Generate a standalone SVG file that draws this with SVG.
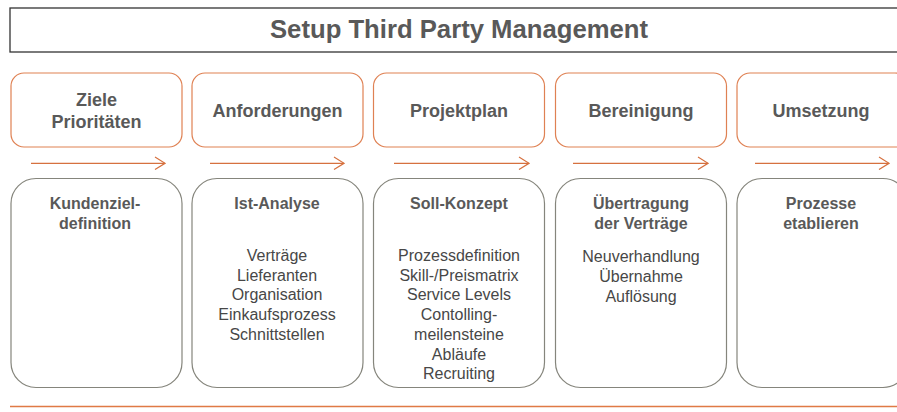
<svg xmlns="http://www.w3.org/2000/svg" width="897" height="412" viewBox="0 0 897 412">
<style>
.bg{fill:#ffffff}
.title-box{fill:#ffffff;stroke:#333333;stroke-width:1.3}
.title{font-family:"Liberation Sans",Arial,sans-serif;font-weight:bold;font-size:25.5px;fill:#595959;text-anchor:middle}
.phase{fill:#ffffff;stroke:#DF8153;stroke-width:1.2}
.task{fill:#ffffff;stroke:#85857c;stroke-width:1.2}
.lbl{font-family:"Liberation Sans",Arial,sans-serif;font-weight:bold;font-size:18px;fill:#595959;text-anchor:middle}
.hd{font-family:"Liberation Sans",Arial,sans-serif;font-weight:bold;font-size:16px;fill:#595959;text-anchor:middle}
.it{font-family:"Liberation Sans",Arial,sans-serif;font-size:16px;fill:#474747;text-anchor:middle}
.arr{stroke:#D6713F;stroke-width:1.2;fill:none}
.rule{stroke:#E07A45;stroke-width:1.5}
</style>
<defs>
<marker id="chev" viewBox="0 0 12 14" refX="11" refY="7" markerWidth="12" markerHeight="14" markerUnits="userSpaceOnUse" orient="auto">
<polyline points="1,0.8 11,7 1,13.2" fill="none" stroke="#D6713F" stroke-width="1.2"/>
</marker>
</defs>
<rect class="bg" x="0" y="0" width="897" height="412"/>
<g id="title">
<rect class="title-box" x="10" y="8" width="900" height="44"/>
<text class="title" x="459" y="38" textLength="378" lengthAdjust="spacingAndGlyphs">Setup Third Party Management</text>
</g>
<g id="phase1"><rect class="phase" x="11" y="73" width="171" height="74" rx="13"/><text class="lbl" x="96.5" y="105.5">Ziele</text><text class="lbl" x="96.5" y="127.5">Prioritäten</text></g>
<g id="phase2"><rect class="phase" x="192" y="73" width="171" height="74" rx="13"/><text class="lbl" x="277.5" y="116.5">Anforderungen</text></g>
<g id="phase3"><rect class="phase" x="373.5" y="73" width="171" height="74" rx="13"/><text class="lbl" x="459" y="116.5">Projektplan</text></g>
<g id="phase4"><rect class="phase" x="555.5" y="73" width="171" height="74" rx="13"/><text class="lbl" x="641" y="116.5">Bereinigung</text></g>
<g id="phase5"><rect class="phase" x="737" y="73" width="171" height="74" rx="13"/><text class="lbl" x="821" y="116.5">Umsetzung</text></g>
<g id="connectors">
<line class="arr" x1="31" y1="163.3" x2="165" y2="163.3" marker-end="url(#chev)"/>
<line class="arr" x1="210" y1="163.3" x2="344" y2="163.3" marker-end="url(#chev)"/>
<line class="arr" x1="394" y1="163.3" x2="529" y2="163.3" marker-end="url(#chev)"/>
<line class="arr" x1="573" y1="163.3" x2="708" y2="163.3" marker-end="url(#chev)"/>
<line class="arr" x1="755" y1="163.3" x2="889" y2="163.3" marker-end="url(#chev)"/>
</g>
<g id="task1"><rect class="task" x="11" y="178.5" width="171" height="209" rx="25"/><text class="hd" x="95" y="209">Kundenziel-</text><text class="hd" x="95" y="229">definition</text></g>
<g id="task2"><rect class="task" x="192" y="178.5" width="171" height="209" rx="25"/><text class="hd" x="277" y="209">Ist-Analyse</text>
<text class="it" x="277" y="261">Verträge</text><text class="it" x="277" y="280.7">Lieferanten</text><text class="it" x="277" y="300.4">Organisation</text><text class="it" x="277" y="320.1">Einkaufsprozess</text><text class="it" x="277" y="339.8">Schnittstellen</text></g>
<g id="task3"><rect class="task" x="373.5" y="178.5" width="171" height="209" rx="25"/><text class="hd" x="459" y="209">Soll-Konzept</text>
<text class="it" x="459" y="261">Prozessdefinition</text><text class="it" x="459" y="280.7">Skill-/Preismatrix</text><text class="it" x="459" y="300.4">Service Levels</text><text class="it" x="459" y="320.1">Contolling-</text><text class="it" x="459" y="339.8">meilensteine</text><text class="it" x="459" y="359.5">Abläufe</text><text class="it" x="459" y="379.2">Recruiting</text></g>
<g id="task4"><rect class="task" x="555.5" y="178.5" width="171" height="209" rx="25"/><text class="hd" x="641" y="209">Übertragung</text><text class="hd" x="641" y="229">der Verträge</text>
<text class="it" x="641" y="262">Neuverhandlung</text><text class="it" x="641" y="282">Übernahme</text><text class="it" x="641" y="302">Auflösung</text></g>
<g id="task5"><rect class="task" x="737" y="178.5" width="171" height="209" rx="25"/><text class="hd" x="821" y="209">Prozesse</text><text class="hd" x="821" y="229">etablieren</text></g>
<line class="rule" x1="10" y1="406.5" x2="897" y2="406.5"/>
</svg>
